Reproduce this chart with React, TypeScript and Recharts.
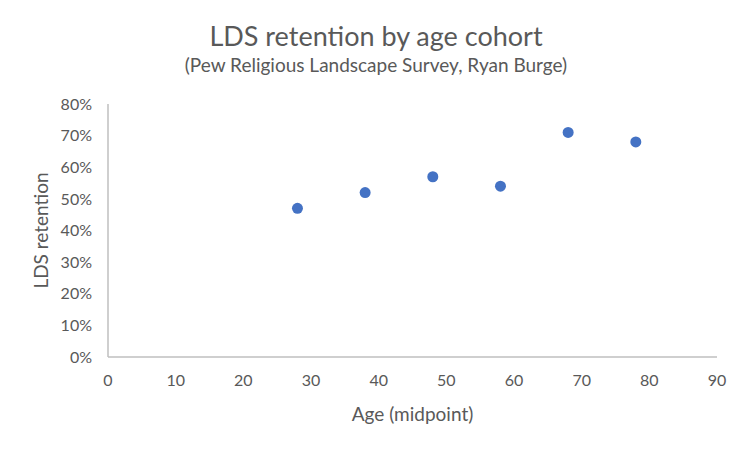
import { ScatterChart, Scatter, XAxis, YAxis, Label } from 'recharts';

const ages = [28, 38, 48, 58, 68, 78];
const retention = [0.47, 0.52, 0.57, 0.54, 0.71, 0.68];
const xTicks = [0, 10, 20, 30, 40, 50, 60, 70, 80, 90];
const yTicks = [0, 0.1, 0.2, 0.3, 0.4, 0.5, 0.6, 0.7, 0.8];

const points = ages.map((age, i) => ({ age, retention: retention[i] }));

const dot = (props: any) => <circle cx={props.cx} cy={props.cy} r={5.5} fill="#4472C4" />;

export default function App() {
    return (
        <div style={{ position: 'relative', width: 736, height: 436, fontFamily: 'Lato, sans-serif', background: '#fff' }}>
            <div style={{ position: 'absolute', top: 11, width: '100%', textAlign: 'center', fontSize: 27, color: '#595959' }}>
                LDS retention by age cohort
            </div>
            <div style={{ position: 'absolute', top: 45, width: '100%', textAlign: 'center', fontSize: 19, color: '#595959' }}>
                (Pew Religious Landscape Survey, Ryan Burge)
            </div>
            <ScatterChart width={736} height={436} margin={{ top: 96, right: 27, bottom: 57, left: 40 }}>
                <XAxis
                    type="number"
                    dataKey="age"
                    domain={[0, 90]}
                    ticks={xTicks}
                    tickLine={false}
                    tickMargin={12}
                    height={30}
                    axisLine={{ stroke: '#bfbfbf', strokeWidth: 1.5 }}
                    tick={{ fill: '#595959', fontSize: 16 }}
                >
                    <Label value="Age (midpoint)" position="bottom" offset={21} fill="#595959" fontSize={19} />
                </XAxis>
                <YAxis
                    type="number"
                    dataKey="retention"
                    domain={[0, 0.8]}
                    ticks={yTicks}
                    tickLine={false}
                    tickMargin={10}
                    width={60}
                    axisLine={{ stroke: '#bfbfbf', strokeWidth: 1.5 }}
                    tick={{ fill: '#595959', fontSize: 16 }}
                    tickFormatter={(v: number) => `${Math.round(v * 100)}%`}
                >
                    <Label value="LDS retention" angle={-90} position="left" offset={7} fill="#595959" fontSize={19} style={{ textAnchor: 'middle' }} />
                </YAxis>
                <Scatter data={points} shape={dot} isAnimationActive={false} />
            </ScatterChart>
        </div>
    );
}
